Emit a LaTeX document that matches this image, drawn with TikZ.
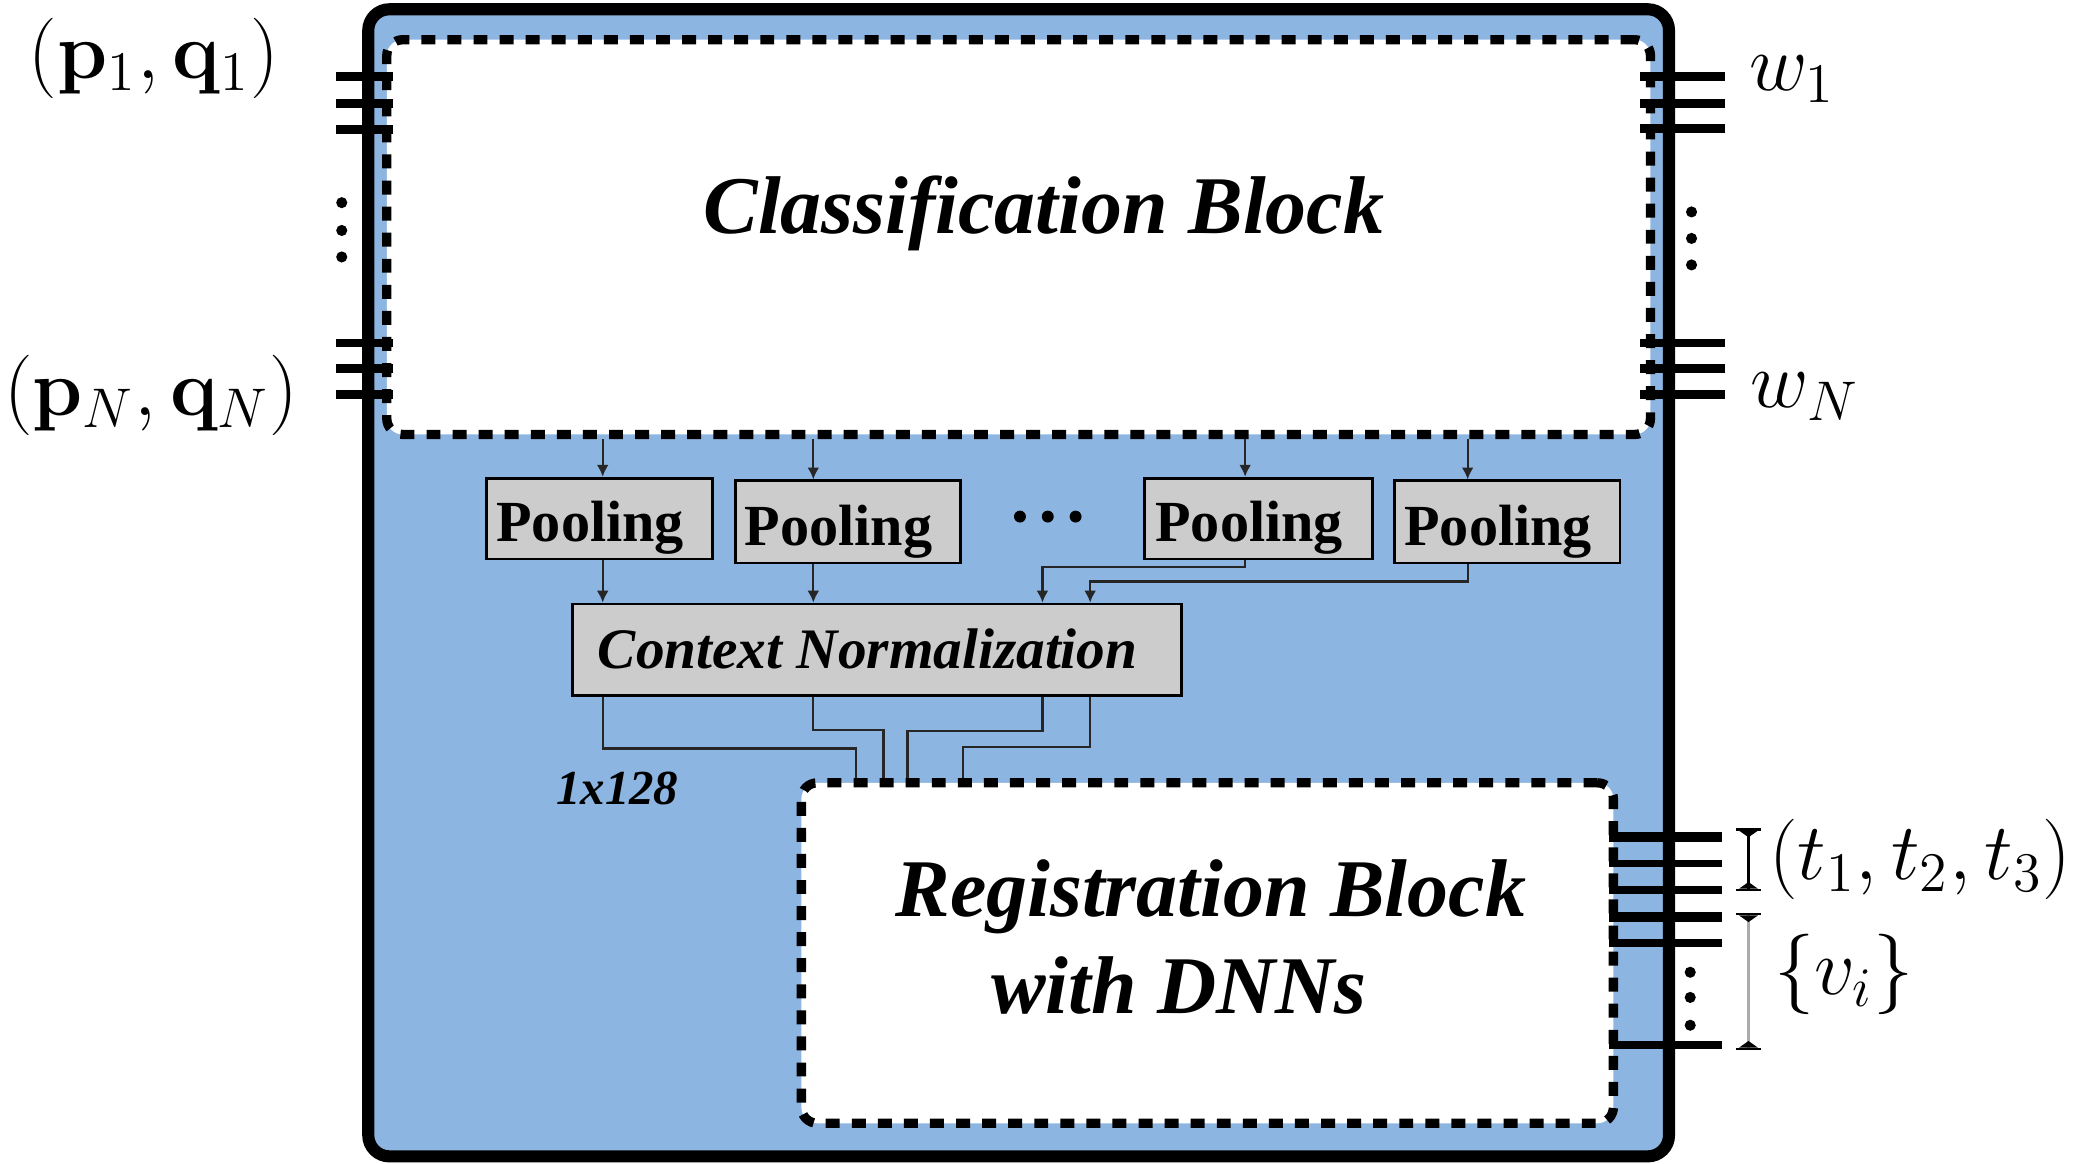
\documentclass[tikz,border=0pt]{standalone}
\usepackage[no-math]{fontspec}
\setmainfont{Liberation Serif}
\usetikzlibrary{arrows.meta}
\definecolor{frameblue}{RGB}{141,181,226}
\definecolor{boxgray}{RGB}{204,204,204}
\begin{document}
\begin{tikzpicture}[x=0.1mm,y=-0.1mm,
  lab/.style={inner sep=0pt, font=\fontsize{17.5}{21}\selectfont},
  block/.style={draw=black, line width=2pt, dash pattern=on 3pt off 2.6pt, fill=white, rounded corners=1.2mm, inner sep=0pt},
  poolbox/.style={draw=black, line width=0.6pt, fill=boxgray, inner sep=0pt, minimum height=6.1mm, font=\fontsize{12.5}{14}\selectfont\bfseries, text height=10pt, text depth=0pt},
  conn/.style={draw=black!85, line width=0.5pt},
  arr/.style={conn, -{Latex[length=0.9mm,width=0.9mm]}},
  tickline/.style={line width=1.9pt},
  capped/.style={line width=0.6pt, {Bar[width=1.9mm,color=black]Triangle[reversed,length=0.5mm,width=1.4mm,color=black]}-{Triangle[reversed,length=0.5mm,width=1.4mm,color=black]Bar[width=1.9mm,color=black]}}]

\useasboundingbox (0,0) rectangle (1568,878.7);

% outer frame
\node[draw=black, line width=2.6pt, fill=frameblue, rounded corners=1.6mm, minimum width=98.2mm, minimum height=86.6mm, inner sep=0pt] (frame) at (769,440) {};

% blocks
\node[block, minimum width=95.4mm, minimum height=29.8mm] (cls) at (769,179) {};
\node[block, minimum width=61.3mm, minimum height=25.7mm] (reg) at (911.5,719.5) {};
\node[inner sep=0pt, anchor=base, font=\fontsize{17.6}{20}\selectfont\bfseries\itshape] (clslabel) at (788,176) {Classification Block};
\node[inner sep=0pt, align=center, font=\fontsize{17.6}{20.8}\selectfont\bfseries\itshape] (reglabel) at (914,707.5) {Registration Block\\with DNNs\hspace*{4.8mm}};

% pooling and context normalization
\node[poolbox, minimum width=17.1mm] (P1) at (452.5,391.5) {Pooling\hspace*{1.4mm}};
\node[poolbox, minimum width=17.0mm, minimum height=6.2mm] (P2) at (640,394) {Pooling\hspace*{1.4mm}};
\node[poolbox, minimum width=17.2mm] (P3) at (950,391.5) {Pooling\hspace*{1.4mm}};
\node[poolbox, minimum width=17.0mm, minimum height=6.2mm] (P4) at (1138,394) {Pooling\hspace*{1.4mm}};
\node[poolbox, minimum width=46mm, minimum height=6.9mm, font=\fontsize{12.3}{14}\selectfont\bfseries\itshape, text height=8pt] (cn) at (662,490.5) {Context Normalization\hspace*{1.4mm}};
\foreach \x in {770,791,812} \fill (\x,390) circle[radius=0.45mm];

\node[inner sep=0pt, font=\fontsize{10.5}{12}\selectfont\bfseries\itshape] (dimlabel) at (466,595) {1x128};

% column and elbow coordinates
\coordinate (c1) at (455,0);
\coordinate (c2) at (614,0);
\coordinate (c3) at (940,0);
\coordinate (c4) at (1108,0);
\coordinate (d3) at (787,0);
\coordinate (d4) at (823,0);
\coordinate (r1) at (646,0);
\coordinate (r2) at (667,0);
\coordinate (r3) at (685,0);
\coordinate (r4) at (727,0);
\coordinate (h3) at (0,428);
\coordinate (h4) at (0,439);
\coordinate (g1) at (0,565);
\coordinate (g2) at (0,551);
\coordinate (g3) at (0,552);
\coordinate (g4) at (0,564);

\draw[arr] (cls.south -| c1) -- (P1.north -| c1);
\draw[arr] (cls.south -| c2) -- (P2.north -| c2);
\draw[arr] (cls.south -| c3) -- (P3.north -| c3);
\draw[arr] (cls.south -| c4) -- (P4.north -| c4);
\draw[arr] (P1.south -| c1) -- (cn.north -| c1);
\draw[arr] (P2.south -| c2) -- (cn.north -| c2);
\draw[arr] (P3.south -| c3) -- (c3 |- h3) -- (d3 |- h3) -- (cn.north -| d3);
\draw[arr] (P4.south -| c4) -- (c4 |- h4) -- (d4 |- h4) -- (cn.north -| d4);
\draw[conn] (cn.south -| c1) -- (c1 |- g1) -- (r1 |- g1) -- (reg.north -| r1);
\draw[conn] (cn.south -| c2) -- (c2 |- g2) -- (r2 |- g2) -- (reg.north -| r2);
\draw[conn] (cn.south -| d3) -- (d3 |- g3) -- (r3 |- g3) -- (reg.north -| r3);
\draw[conn] (cn.south -| d4) -- (d4 |- g4) -- (r4 |- g4) -- (reg.north -| r4);

% input / output ticks
\foreach \y in {58,78,98,259,278,298} \draw[tickline] (254,\y) -- (297,\y);
\foreach \y in {58,78,97,259,278,298} \draw[tickline] (1238,\y) -- (1302,\y);
\foreach \y/\w in {632/2.1,652/1.6,672/1.6,692/2.1,712/1.6,789/1.6} \draw[line width=\w pt] (1215,\y) -- (1300,\y);
\foreach \y in {153,174,194} \fill (258,\y) circle[radius=0.42mm];
\foreach \y in {160,180,200} \fill (1277,\y) circle[radius=0.42mm];
\foreach \y in {734,753,774} \fill (1276,\y) circle[radius=0.42mm];

% brackets
\coordinate (bt1) at (1320,625);
\coordinate (bb1) at (1320,673);
\coordinate (bt2) at (1320,689);
\coordinate (bb2) at (1320,793);
\draw[capped, draw=black] (bt1) -- (bb1);
\draw[capped, draw=black!33] (bt2) -- (bb2);

% labels
\node[lab, anchor=base east] (pq1) at (211,59) {$(\mathbf{p}_1,\mathbf{q}_1)$};
\node[lab, anchor=base east] (pqN) at (226,314) {$(\mathbf{p}_N,\mathbf{q}_N)$};
\node[lab, anchor=base west] (w1) at (1320,68) {$w_1$};
\node[lab, anchor=base west] (wN) at (1321,308) {$w_N$};
\node[lab, anchor=base west] (tvec) at (1335,664) {$(t_1,t_2,t_3)$};
\node[lab, anchor=base west] (vset) at (1339,751) {$\{v_i\}$};
\end{tikzpicture}
\end{document}
